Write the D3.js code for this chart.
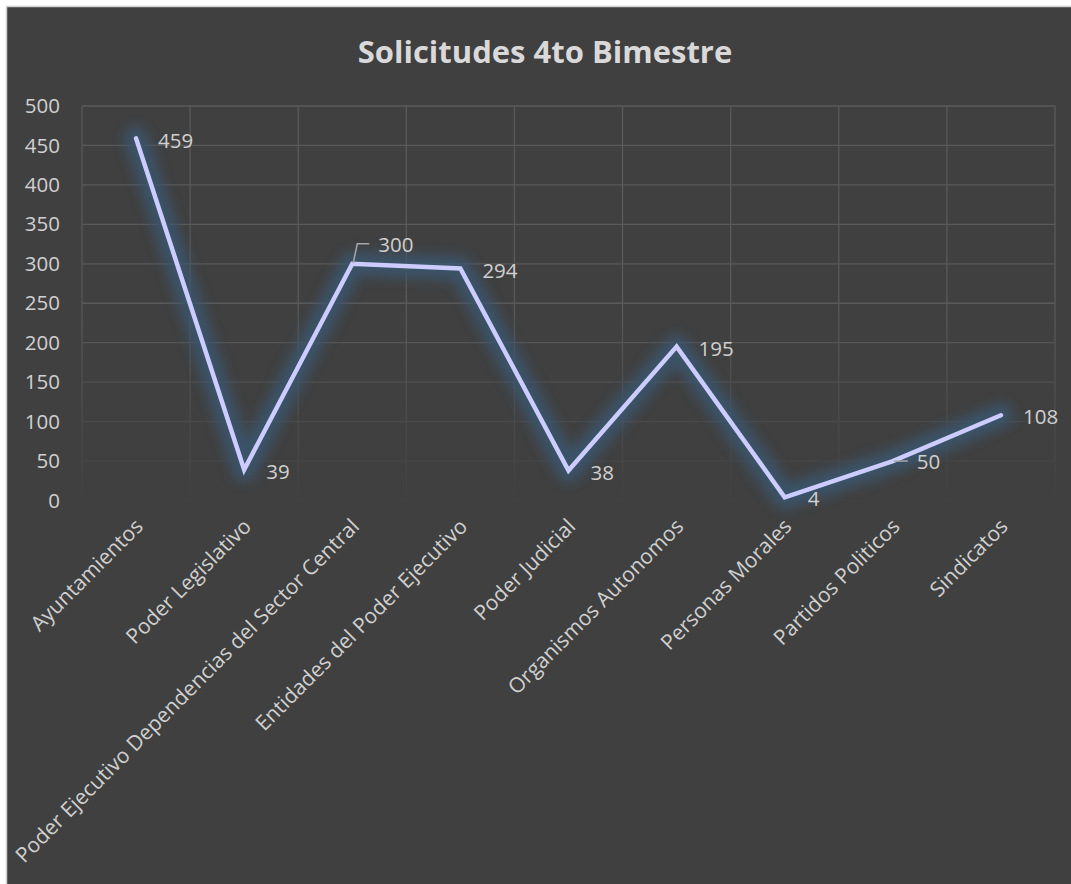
<!DOCTYPE html>
<html>
<head>
<meta charset="utf-8">
<script src="https://cdn.jsdelivr.net/npm/d3@7"></script>
<style>
  html, body { margin: 0; padding: 0; background: #ffffff; }
  svg { display: block; }
</style>
</head>
<body>
<svg id="chart" width="1071" height="884"></svg>
<script>
const title = "Solicitudes 4to Bimestre";
const categories = [
  "Ayuntamientos",
  "Poder Legislativo",
  "Poder Ejecutivo Dependencias del Sector Central",
  "Entidades del Poder Ejecutivo",
  "Poder Judicial",
  "Organismos Autonomos",
  "Personas Morales",
  "Partidos Politicos",
  "Sindicatos"
];
const values = [459, 39, 300, 294, 38, 195, 4, 50, 108];
const yTicks = [0, 50, 100, 150, 200, 250, 300, 350, 400, 450, 500];

const svg = d3.select("#chart");
const W = 1071, H = 884;
const plot = { left: 82, right: 1055, top: 106, bottom: 500.5 };

// chart area background
svg.append("rect")
  .attr("x", 6.5).attr("y", 6.5)
  .attr("width", W).attr("height", H)
  .attr("fill", "#404040")
  .attr("stroke", "#d0d0d0").attr("stroke-width", 1.5);

const defs = svg.append("defs");
const grad = defs.append("linearGradient")
  .attr("id", "gridFade").attr("gradientUnits", "userSpaceOnUse")
  .attr("x1", 0).attr("y1", plot.top).attr("x2", 0).attr("y2", plot.bottom);
grad.append("stop").attr("offset", "0%").attr("stop-color", "#fff").attr("stop-opacity", 1);
grad.append("stop").attr("offset", "50%").attr("stop-color", "#fff").attr("stop-opacity", 1);
grad.append("stop").attr("offset", "100%").attr("stop-color", "#fff").attr("stop-opacity", 0.05);
const mask = defs.append("mask").attr("id", "gridMask")
  .attr("maskUnits", "userSpaceOnUse")
  .attr("x", 0).attr("y", 0).attr("width", W).attr("height", H);
mask.append("rect").attr("x", 0).attr("y", 0).attr("width", W).attr("height", H)
  .attr("fill", "url(#gridFade)");

const glow = defs.append("filter").attr("id", "glow")
  .attr("x", "-20%").attr("y", "-20%").attr("width", "140%").attr("height", "140%");
glow.append("feGaussianBlur").attr("stdDeviation", 6);

const x = d3.scaleBand().domain(categories).range([plot.left, plot.right]).padding(0);
const y = d3.scaleLinear().domain([0, 500]).range([plot.bottom, plot.top]);
const cx = d => x(d) + x.bandwidth() / 2;

// title
svg.append("text")
  .attr("x", 545).attr("y", 63)
  .attr("text-anchor", "middle")
  .attr("font-family", "'Open Sans', sans-serif")
  .attr("font-weight", "bold")
  .attr("font-size", 31)
  .attr("fill", "#d9d9d9")
  .text(title);

// grid
const grid = svg.append("g").attr("mask", "url(#gridMask)")
  .attr("stroke", "#5a5a5a").attr("stroke-width", 1.3);
grid.selectAll("line.h").data(yTicks).join("line")
  .attr("x1", plot.left).attr("x2", plot.right)
  .attr("y1", d => y(d)).attr("y2", d => y(d));
const vEdges = categories.map(c => x(c)).concat([plot.right]);
grid.selectAll("line.v").data(vEdges).join("line")
  .attr("x1", d => d).attr("x2", d => d)
  .attr("y1", plot.top).attr("y2", plot.bottom);

// y axis
const yAxis = svg.append("g")
  .attr("transform", `translate(${plot.left},0)`)
  .call(d3.axisLeft(y).tickValues(yTicks).tickSize(0).tickPadding(22));
yAxis.select(".domain").remove();
yAxis.selectAll("text")
  .attr("font-family", "'Open Sans', sans-serif")
  .attr("font-size", 20.5)
  .attr("fill", "#d0d0d0");

// x axis labels
const xAxis = svg.append("g")
  .attr("transform", `translate(0,${plot.bottom})`)
  .call(d3.axisBottom(x).tickSize(0).tickPadding(0));
xAxis.select(".domain").remove();
xAxis.selectAll("text")
  .attr("font-family", "'Open Sans', sans-serif")
  .attr("font-size", 21)
  .attr("fill", "#d0d0d0")
  .attr("text-anchor", "end")
  .attr("dy", "0.35em")
  .attr("transform", "translate(3,22) rotate(-45)");

// line
const data = categories.map((c, i) => ({ c, v: values[i] }));
const line = d3.line().x(d => cx(d.c)).y(d => y(d.v));
svg.append("path")
  .datum(data)
  .attr("d", line)
  .attr("fill", "none")
  .attr("stroke", "#3a5670")
  .attr("stroke-width", 24)
  .attr("stroke-linejoin", "round")
  .attr("stroke-linecap", "round")
  .attr("opacity", 0.85)
  .attr("filter", "url(#glow)");
svg.append("path")
  .datum(data)
  .attr("d", line)
  .attr("fill", "none")
  .attr("stroke", "#ccccff")
  .attr("stroke-width", 4.5)
  .attr("stroke-linejoin", "miter")
  .attr("stroke-linecap", "round");

// data labels
const labels = svg.append("g")
  .attr("font-family", "'Open Sans', sans-serif")
  .attr("font-size", 20.5)
  .attr("fill", "#d0d0d0");
data.forEach((d, i) => {
  const px = cx(d.c), py = y(d.v);
  let lx = px + 22, ly = py + 2;
  if (i === 2) {
    lx = px + 26; ly = py - 19;
    svg.append("polyline")
      .attr("points", `${px + 1},${py - 1} ${px + 5},${py - 20} ${px + 17},${py - 20}`)
      .attr("fill", "none").attr("stroke", "#a6a6a6").attr("stroke-width", 1.5);
  } else if (i === 7) {
    lx = px + 24; ly = py + 1;
    svg.append("line")
      .attr("x1", px + 1).attr("x2", px + 15)
      .attr("y1", py).attr("y2", py)
      .attr("stroke", "#a6a6a6").attr("stroke-width", 1.5);
  } else if (i === 6) {
    lx = px + 23; ly = py + 1;
  }
  labels.append("text")
    .attr("x", lx).attr("y", ly)
    .attr("dy", "0.35em")
    .text(d.v);
});
</script>
</body>
</html>
